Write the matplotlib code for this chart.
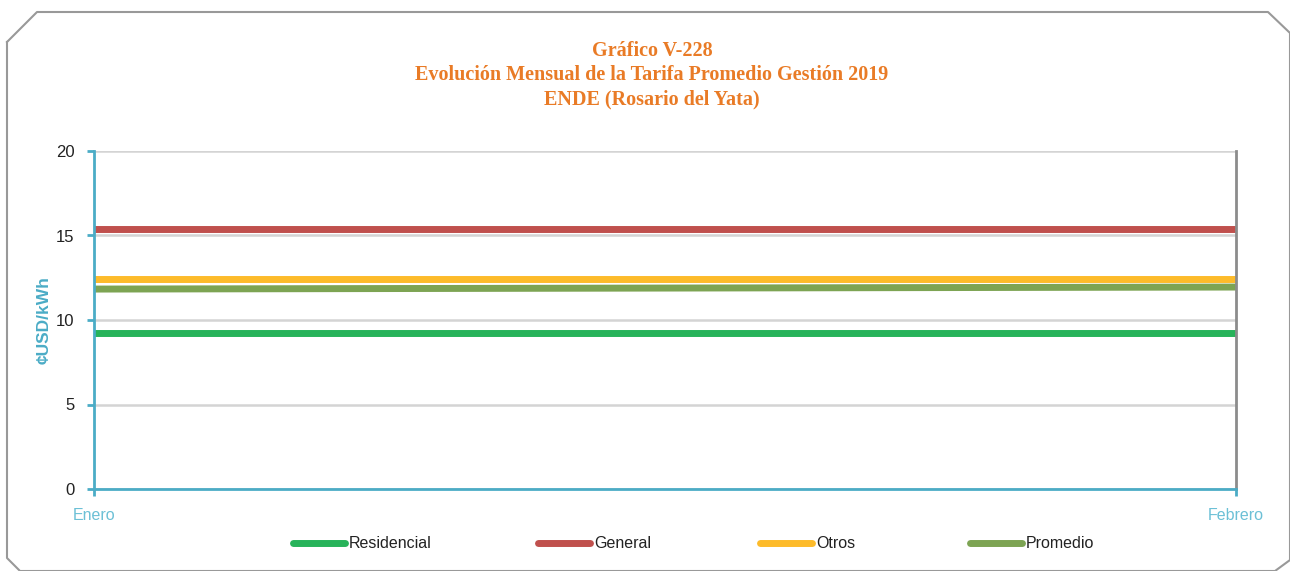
import matplotlib.pyplot as plt
from matplotlib.lines import Line2D

# Datos
meses = ['Enero', 'Febrero']
residencial = [9.23, 9.23]
general = [15.38, 15.38]
otros = [12.43, 12.43]
promedio = [11.83, 11.95]

series = [
    ('Residencial', residencial, '#27B35A'),
    ('General', general, '#C0504D'),
    ('Otros', otros, '#FDBB2A'),
    ('Promedio', promedio, '#7DA453'),
]

narrow = ['Liberation Sans', 'DejaVu Sans']
teal = '#4BACC6'
W, H = 1290, 571

fig = plt.figure(figsize=(12.9, 5.71), dpi=100)
ax = fig.add_axes([94 / W, 1 - 489 / H, (1236 - 94) / W, (489 - 151) / H])

x = list(range(len(meses)))
for name, vals, col in series:
    ax.plot(x, vals, color=col, lw=5, solid_capstyle='butt', label=name)

ax.set_xlim(0, 1)
ax.set_ylim(0, 20)
ax.set_yticks([0, 5, 10, 15, 20])
ax.set_xticks(x)
ax.set_xticklabels(meses, fontfamily=narrow, fontsize=11.5, color='#6CC0D6')
for lab in ax.get_yticklabels():
    lab.set_fontfamily(narrow)
    lab.set_fontsize(12)
    lab.set_color('#222222')
ax.tick_params(axis='y', length=5, color=teal, width=2, pad=9)
ax.tick_params(axis='x', length=5, color=teal, width=2, pad=9)
ax.grid(axis='y', color='#D4D4D4', lw=1.8)
ax.set_axisbelow(True)

ax.spines['left'].set_color(teal)
ax.spines['left'].set_linewidth(2)
ax.spines['bottom'].set_color(teal)
ax.spines['bottom'].set_linewidth(2)
ax.spines['right'].set_color('#8C8C8C')
ax.spines['right'].set_linewidth(2)
ax.spines['top'].set_visible(False)

fig.text(44 / W, 1 - 320 / H, '¢USD/kWh', rotation=90, ha='center', va='center',
         fontfamily=narrow, fontsize=12.5, fontweight='bold', color=teal)

# Titulo
fig.text(652 / W, 1 - 75 / H,
         'Gráfico V-228\nEvolución Mensual de la Tarifa Promedio Gestión 2019\nENDE (Rosario del Yata)',
         ha='center', va='center', fontfamily='Liberation Serif', fontsize=14.5,
         fontweight='bold', color='#E97B26', linespacing=1.3)

# Leyenda (manual)
leg_x = [290, 535, 757, 967]
for (name, _, col), lx in zip(series, leg_x):
    fig.add_artist(Line2D([(lx + 3) / W, (lx + 55) / W], [1 - 543 / H] * 2, color=col, lw=5,
                          solid_capstyle='round', transform=fig.transFigure))
    fig.text((lx + 59) / W, 1 - 543 / H, name, ha='left', va='center',
             fontfamily=narrow, fontsize=11.5, color='#222222')

# Marco con esquinas cortadas
bx = [7, 37, 1268, 1290, 1290, 1275, 20, 7, 7]
by = [42, 12, 12, 33, 560, 571, 571, 558, 42]
fig.add_artist(Line2D([v / W for v in bx], [1 - v / H for v in by],
                      color='#999999', lw=1.5, transform=fig.transFigure))

fig.savefig('out.png', dpi=100)
